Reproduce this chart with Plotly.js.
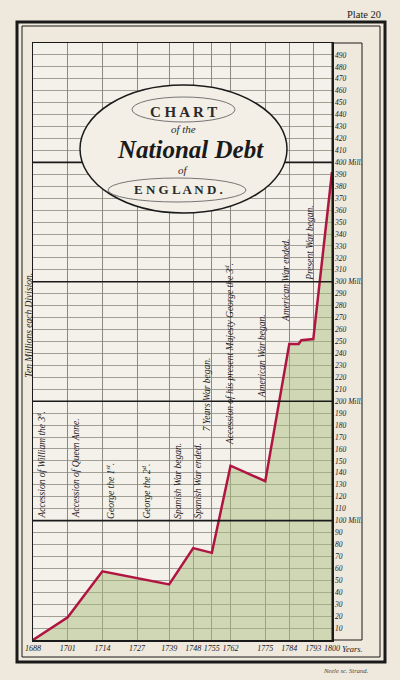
<!DOCTYPE html>
<html><head><meta charset="utf-8">
<script src="https://cdn.plot.ly/plotly-3.0.1.min.js"></script>
<style>html,body{margin:0;padding:0;background:#efe9dd;}#chart{width:400px;height:680px;}</style>
</head><body><div id="chart"></div>
<script>
// ---- data ----
const years = [1688, 1701, 1714, 1727, 1739, 1748, 1755, 1762, 1775, 1784, 1787.5, 1788.5, 1793, 1800];
const debt  = [0, 19, 57.5, 52, 46.5, 77, 73, 146, 133, 248, 248, 251, 252, 392];
const yearTicks  = [1688, 1701, 1714, 1727, 1739, 1748, 1755, 1762, 1775, 1784, 1793, 1800];
const yearLabels = ['1688', '1701', '1714', '1727', '1739', '1748', '1755', '1762', '1775', '1784', '1793', '1800'];
const millTicks  = [10,20,30,40,50,60,70,80,90,100,110,120,130,140,150,160,170,180,190,200,210,220,230,240,250,260,270,280,290,300,310,320,330,340,350,360,370,380,390,400,410,420,430,440,450,460,470,480,490];
const millLabels = millTicks.map(v => (v % 100 === 0 ? v + ' Mill.' : String(v)));
const millionLines = [100, 200, 300, 400];
const eventTexts = [
  'Accession of William the 3<sup>d</sup>.',
  'Accession of Queen Anne.',
  'George the 1<sup>st</sup>.',
  'George the 2<sup>d</sup>.',
  'Spanish War began.',
  'Spanish War ended.',
  '7 Years War began.',
  'Accession of his present Majesty George the 3<sup>d</sup>.',
  'American War began.',
  'American War ended.',
  'Present War began.'
];

// ---- layout helpers (positions only) ----
const L = 33, R = 332, T = 43, B = 640, W = 400, H = 680;
const px = x => (x - L) / (R - L);
const py = y => (B - y) / (B - T);
const eventX = [1691, 1704, 1716.6, 1730.5, 1742, 1750, 1753.5, 1761.2, 1773.8, 1782.7, 1791.7];
const eventY = [100, 100, 100, 100, 100, 100, 173, 162, 201, 265, 299];

const ink = '#1a1a1a';
const serif = 'Liberation Serif, DejaVu Serif, serif';

const annotations = eventTexts.map((t, i) => ({
  x: eventX[i], y: eventY[i], xref: 'x', yref: 'y',
  text: '<i>' + t + '</i>', showarrow: false, textangle: -90,
  xanchor: 'center', yanchor: 'bottom',
  font: {family: serif, size: 9.5, color: ink}
}));
function note(x, y, text, size, opts) {
  return Object.assign({x: px(x), y: py(y), xref: 'paper', yref: 'paper', text: text, showarrow: false,
    xanchor: 'center', yanchor: 'middle', font: {family: serif, size: size, color: ink}}, opts || {});
}
annotations.push(
  note(28, 380, '<i>Ten Millions each Division.</i>', 9.5, {textangle: -90, yanchor: 'bottom'}),
  note(340, 649, '<i>Years.</i>', 8.5, {xanchor: 'left'}),
  note(383, 14, 'Plate 20', 10.5, {xanchor: 'right'}),
  note(370, 670, '<i>Neele sc. Strand.</i>', 6.5, {xanchor: 'right', font: {family: serif, size: 6.5, color: '#444'}}),
  note(183, 112, '<b>C H A R T</b>', 15, {font: {family: serif, size: 15, color: '#2a2a2a'}}),
  note(183, 129, '<i>of the</i>', 11, {font: {family: serif, size: 11, color: '#2a2a2a'}}),
  note(190, 150, '<b><i>National Debt</i></b>', 25),
  note(183, 170, '<i>of</i>', 11, {font: {family: serif, size: 11, color: '#2a2a2a'}}),
  note(178, 190, '<b>E N G L A N D .</b>', 13, {font: {family: serif, size: 13, color: '#2a2a2a'}})
);

function rect(x0, y0, x1, y1, w) {
  return {type: 'rect', xref: 'paper', yref: 'paper', x0: px(x0), x1: px(x1), y0: py(y1), y1: py(y0), line: {color: ink, width: w}};
}
const shapes = [];
millionLines.forEach(v => shapes.push({type: 'line', xref: 'paper', yref: 'y', x0: 0, x1: 1, y0: v, y1: v, line: {color: ink, width: 1.6}}));
shapes.push(
  rect(17, 22, 385, 662, 3),
  rect(22, 26, 380, 657, 1),
  rect(332, 43, 362, 640, 1),
  {type: 'circle', xref: 'paper', yref: 'paper', x0: px(80), x1: px(287), y0: py(213), y1: py(85), fillcolor: '#f3efe6', line: {color: ink, width: 1.5}},
  {type: 'circle', xref: 'paper', yref: 'paper', x0: px(132), x1: px(235), y0: py(122), y1: py(97), line: {color: '#555', width: 0.8}},
  {type: 'circle', xref: 'paper', yref: 'paper', x0: px(108), x1: px(246), y0: py(202), y1: py(178), line: {color: '#555', width: 0.8}}
);

const trace = {
  x: years, y: debt, type: 'scatter', mode: 'lines',
  line: {color: '#b01440', width: 2.5},
  fill: 'tozeroy', fillcolor: 'rgba(170,190,128,0.5)',
  hoverinfo: 'skip'
};

const layout = {
  width: W, height: H,
  margin: {l: L, r: W - R, t: T, b: H - B, pad: 0},
  paper_bgcolor: '#efe9dd', plot_bgcolor: '#f4f1ea',
  showlegend: false,
  xaxis: {
    range: [1688, 1800], tickmode: 'array', tickvals: yearTicks, ticktext: yearLabels,
    tickangle: 0, automargin: false,
    showgrid: true, gridcolor: '#8c8a80', gridwidth: 1, zeroline: false,
    showline: true, mirror: true, linecolor: ink, linewidth: 1.5,
    ticks: '', tickfont: {family: serif, size: 8, color: ink, style: 'italic'}
  },
  yaxis: {
    range: [0, 500], side: 'right', tickmode: 'array', tickvals: millTicks, ticktext: millLabels,
    automargin: false,
    showgrid: true, gridcolor: '#8c8a80', gridwidth: 0.8, zeroline: false,
    showline: true, mirror: true, linecolor: ink, linewidth: 1.5,
    ticks: '', tickfont: {family: serif, size: 7.5, color: ink, style: 'italic'}
  },
  shapes: shapes,
  annotations: annotations
};

Plotly.newPlot('chart', [trace], layout, {staticPlot: true, displayModeBar: false});
</script>
</body></html>
